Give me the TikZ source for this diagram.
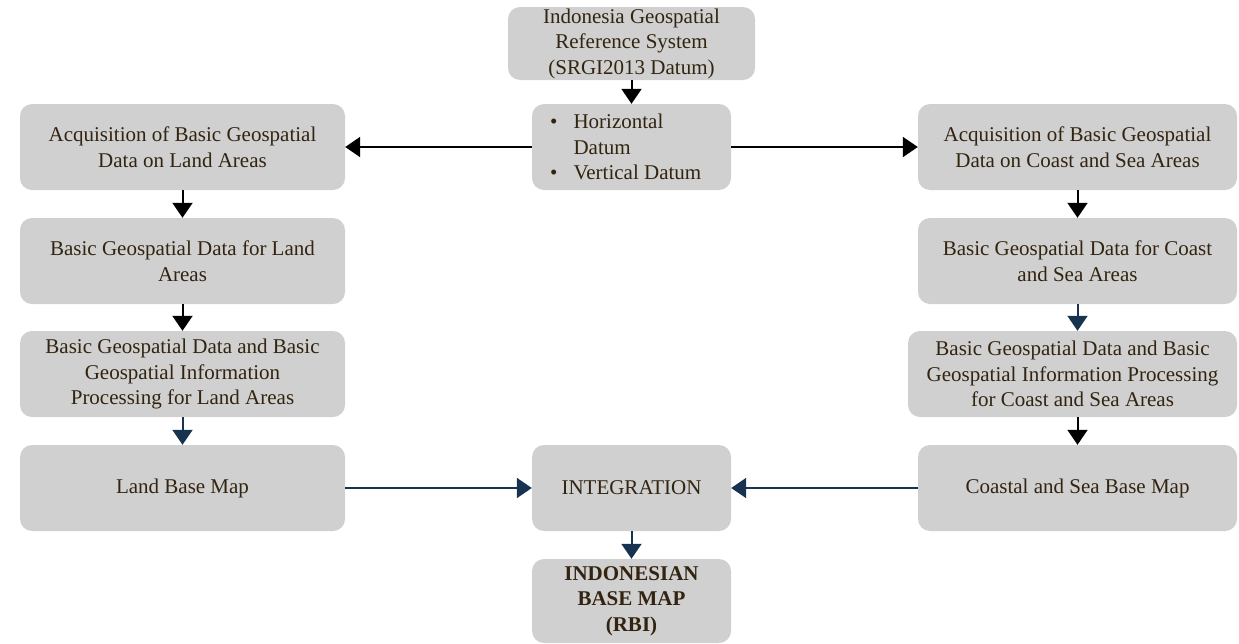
\documentclass[tikz,border=0pt]{standalone}
\usepackage{fontspec}
\setmainfont{Liberation Serif}
\usetikzlibrary{arrows.meta}
\definecolor{boxgray}{RGB}{208,208,208}
\definecolor{txtbrown}{RGB}{50,36,16}
\definecolor{arrblue}{RGB}{23,51,79}
\tikzset{
  gbox/.style={rectangle, rounded corners=12pt, fill=boxgray, text=txtbrown, align=center,
    inner sep=0pt, font=\fontsize{21}{25.5}\selectfont},
  blackarr/.style={draw=black, line width=2pt, -{Triangle[width=20pt,length=15pt]}},
  bluearr/.style={draw=arrblue, line width=2pt, -{Triangle[width=20pt,length=15pt]}}
}
\begin{document}
\begin{tikzpicture}[x=1pt,y=-1pt]
\useasboundingbox (0,0) rectangle (1239,643);
\node[gbox, minimum width=247pt, minimum height=73pt] (top) at (631.5,43.5)
  {Indonesia Geospatial\\Reference System\\(SRGI2013 Datum)};
\node[gbox, minimum width=199pt, minimum height=86pt] (datum) at (631.5,147) {};
\node[anchor=west, inner sep=0pt, text=txtbrown, font=\fontsize{21}{25.5}\selectfont] (datumtxt) at (550,149)
  {\begin{tabular}{@{}l@{\hspace{16pt}}l@{}}\textbullet & Horizontal\\ & Datum\\ \textbullet & Vertical Datum\end{tabular}};
\node[gbox, minimum width=325pt, minimum height=86pt] (L1) at (182.5,147)
  {Acquisition of Basic Geospatial\\Data on Land Areas};
\node[gbox, minimum width=325pt, minimum height=86pt] (L2) at (182.5,261)
  {Basic Geospatial Data for Land\\Areas};
\node[gbox, minimum width=325pt, minimum height=86pt] (L3) at (182.5,374)
  {Basic Geospatial Data and Basic\\Geospatial Information\\Processing for Land Areas};
\node[gbox, minimum width=325pt, minimum height=86pt] (L4) at (182.5,488)
  {Land Base Map};
\node[gbox, minimum width=319pt, minimum height=86pt] (R1) at (1077.5,147)
  {Acquisition of Basic Geospatial\\Data on Coast and Sea Areas};
\node[gbox, minimum width=319pt, minimum height=86pt] (R2) at (1077.5,261)
  {Basic Geospatial Data for Coast\\and Sea Areas};
\node[gbox, minimum width=329pt, minimum height=86pt] (R3) at (1072.5,374)
  {Basic Geospatial Data and Basic\\Geospatial Information Processing\\for Coast and Sea Areas};
\node[gbox, minimum width=319pt, minimum height=86pt] (R4) at (1077.5,488)
  {Coastal and Sea Base Map};
\node[gbox, minimum width=199pt, minimum height=86pt] (int) at (631.5,488)
  {INTEGRATION};
\node[gbox, minimum width=199pt, minimum height=84pt, font=\fontsize{21}{25.5}\selectfont\bfseries] (rbi) at (631.5,601)
  {INDONESIAN\\BASE MAP\\(RBI)};
% arrows
\draw[blackarr] (top.south) -- (datum.north);
\draw[blackarr] (datum.west) -- (L1.east);
\draw[blackarr] (datum.east) -- (R1.west);
\draw[blackarr] (L1.south) -- (L2.north);
\draw[blackarr] (L2.south) -- (L3.north);
\draw[bluearr] (L3.south) -- (L4.north);
\draw[blackarr] (R1.south) -- (R2.north);
\draw[bluearr] (R2.south) -- (R2.south |- R3.north);
\draw[blackarr] (R2.south |- R3.south) -- (R4.north);
\draw[bluearr] (L4.east) -- (int.west);
\draw[bluearr] (R4.west) -- (int.east);
\draw[bluearr] (int.south) -- (rbi.north);
\end{tikzpicture}
\end{document}
